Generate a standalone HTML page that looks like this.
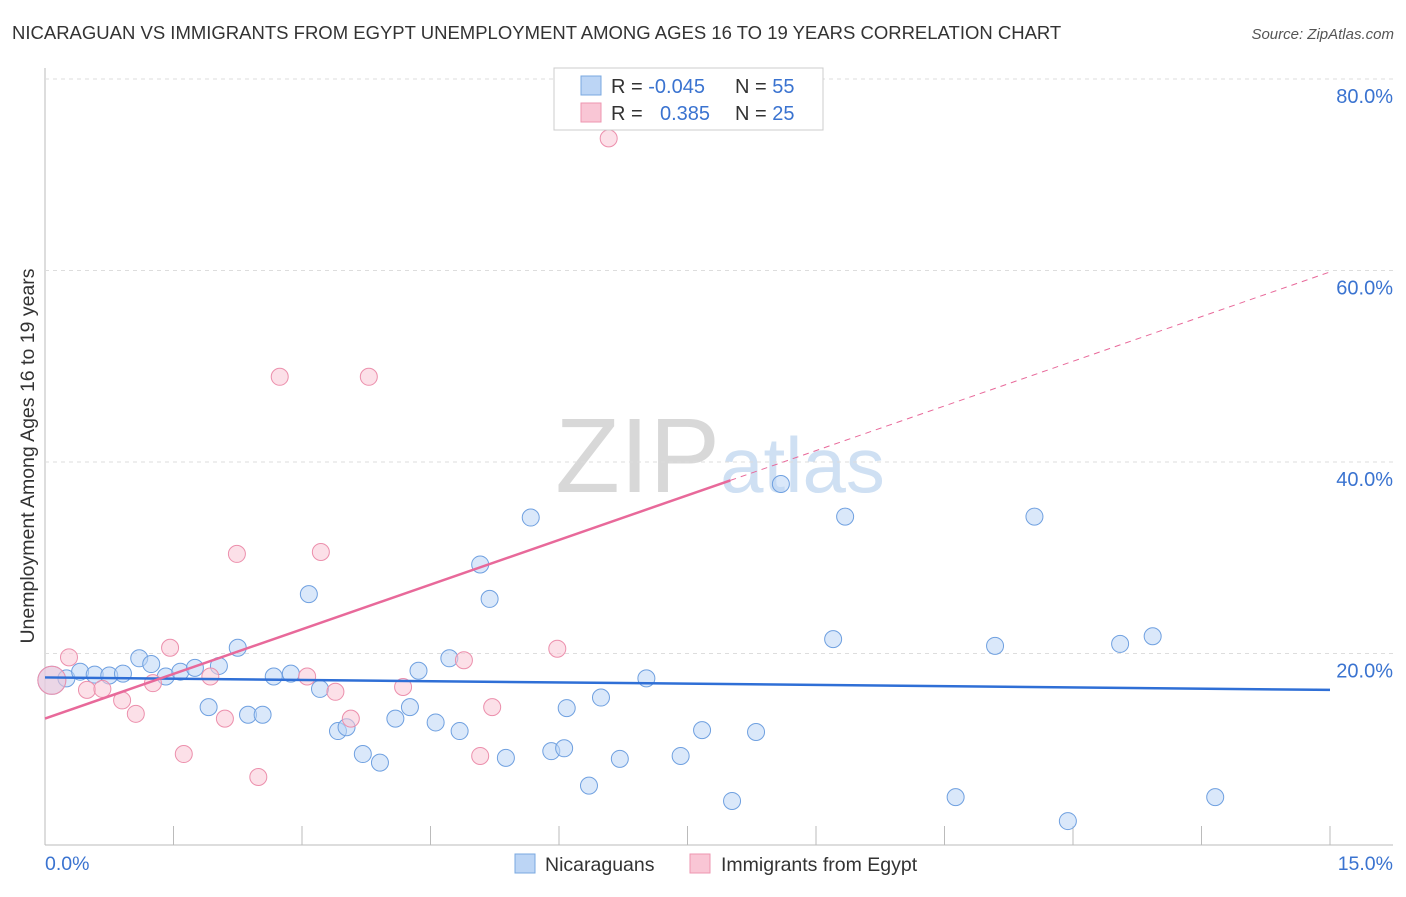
<!DOCTYPE html>
<html><head><meta charset="utf-8"><style>
body{margin:0;background:#fff;font-family:"Liberation Sans",sans-serif}
svg text{font-family:"Liberation Sans",sans-serif}
</style></head><body>
<svg id="c" width="1406" height="892" xmlns="http://www.w3.org/2000/svg">
<text x="12" y="39" font-size="18.5" fill="#333">NICARAGUAN VS IMMIGRANTS FROM EGYPT UNEMPLOYMENT AMONG AGES 16 TO 19 YEARS CORRELATION CHART</text>
<text x="1394" y="39" font-size="15" fill="#555" font-style="italic" text-anchor="end">Source: ZipAtlas.com</text>
<text x="720" y="492" font-size="106" text-anchor="middle" fill="#ddd" font-family="Liberation Serif"><tspan fill="#d8d8d8">ZIP</tspan><tspan fill="#cfe0f3" font-family="Liberation Sans" font-size="78">atlas</tspan></text>
<text transform="translate(34,456) rotate(-90)" font-size="19.5" fill="#333" text-anchor="middle">Unemployment Among Ages 16 to 19 years</text>
<g id="grid"></g><g id="marks"></g>
<g>
<rect x="554" y="68" width="269" height="62" fill="#fff" stroke="#ccc"/>
<rect x="581" y="76" width="20" height="19" fill="#bcd5f5" stroke="#7aa8e0"/>
<rect x="581" y="103" width="20" height="19" fill="#f9c6d5" stroke="#ee96b0"/>
<text x="611" y="93" font-size="20" fill="#333">R = <tspan fill="#3a73d0">-0.045</tspan><tspan x="735">N = </tspan><tspan fill="#3a73d0">55</tspan></text>
<text x="611" y="120" font-size="20" fill="#333">R = <tspan x="660" fill="#3a73d0">0.385</tspan><tspan x="735">N = </tspan><tspan fill="#3a73d0">25</tspan></text>
</g>
<g>
<rect x="515" y="854" width="20" height="19" fill="#bcd5f5" stroke="#7aa8e0"/>
<text x="545" y="871" font-size="19.5" fill="#333">Nicaraguans</text>
<rect x="690" y="854" width="20" height="19" fill="#f9c6d5" stroke="#ee96b0"/>
<text x="721" y="871" font-size="19.5" fill="#333">Immigrants from Egypt</text>
</g>
</svg>
<script>
const blueX=[0.08,0.25,0.41,0.58,0.75,0.91,1.1,1.24,1.41,1.58,1.75,1.91,2.03,2.25,2.37,2.54,2.67,2.87,3.08,3.21,3.42,3.52,3.71,3.91,4.09,4.26,4.36,4.56,4.72,4.84,5.08,5.19,5.38,5.67,5.91,6.06,6.09,6.35,6.49,6.71,7.02,7.42,7.67,8.02,8.3,8.59,9.2,9.34,10.63,11.09,11.55,11.94,12.55,12.93,13.66];
const blueY=[17.2,17.4,18.1,17.8,17.7,17.9,19.5,18.9,17.6,18.1,18.5,14.4,18.7,20.6,13.6,13.6,17.6,17.9,26.2,16.3,11.9,12.3,9.5,8.6,13.2,14.4,18.2,12.8,19.5,11.9,29.3,25.7,9.1,34.2,9.8,10.1,14.3,6.2,15.4,9.0,17.4,9.3,12.0,4.6,11.8,37.7,21.5,34.3,5.0,20.8,34.3,2.5,21.0,21.8,5.0];
const pinkX=[0.08,0.28,0.49,0.67,0.9,1.06,1.26,1.46,1.62,1.93,2.1,2.24,2.49,2.74,3.06,3.22,3.39,3.57,3.78,4.18,4.89,5.08,5.22,5.98,6.58];
const pinkY=[17.2,19.6,16.2,16.3,15.1,13.7,16.9,20.6,9.5,17.6,13.2,30.4,7.1,48.9,17.6,30.6,16.0,13.2,48.9,16.5,19.3,9.3,14.4,20.5,73.8];
const regInt=[17.5,13.2], regSlope=[-0.087,3.11], solidEnd=[15,8.0];
const yTicks=[20,40,60,80], yLabels=["20.0%","40.0%","60.0%","80.0%"];
const xLabels=["0.0%","15.0%"];
const X=v=>45+v/15*1285, Y=v=>845-v*9.575, NS="http://www.w3.org/2000/svg";
const g=document.getElementById('grid'), m=document.getElementById('marks');
function el(p,t,a){const e=document.createElementNS(NS,t);for(const k in a)e.setAttribute(k,a[k]);p.appendChild(e);return e;}
let ax=el(g,'line',{x1:45,y1:68,x2:45,y2:845,stroke:'#bbb'});

let bx=el(g,'line',{x1:45,y1:845,x2:1393,y2:845,stroke:'#bbb'});

for(let i=1;i<=10;i++){const t=el(g,'line',{x1:X(i*1.5),y1:826,x2:X(i*1.5),y2:845,stroke:'#bbb'});
}
yTicks.forEach((v,i)=>{const l=el(g,'line',{x1:45,y1:Y(v),x2:1393,y2:Y(v),stroke:'#ddd','stroke-dasharray':'4,4'});

const t=el(g,'text',{x:1393,y:Y(v)+24,'font-size':20,fill:'#3a73d0','text-anchor':'end'});t.textContent=yLabels[i];
});
[[45,'start',xLabels[0]],[1393,'end',xLabels[1]]].forEach(a=>{const t=el(g,'text',{x:a[0],y:870,'font-size':19.5,fill:'#3a73d0','text-anchor':a[1]});t.textContent=a[2];
});
function pts(xs,ys,f,s,n){xs.forEach((x,i)=>{const c=el(m,'circle',{cx:X(x),cy:Y(ys[i]),r:i==0?14:8.5,fill:f,'fill-opacity':0.55,stroke:s,'stroke-width':1});
});}
pts(blueX,blueY,'#bcd5f5','#6fa0e0','nicaraguan-point');
pts(pinkX,pinkY,'#f9c6d5','#ec8fac','egypt-point');
const cols=['#2f6fd6','#e8699a'];
[0,1].forEach(i=>{const f=x=>regInt[i]+regSlope[i]*x;
const l=el(m,'line',{x1:X(0),y1:Y(f(0)),x2:X(solidEnd[i]),y2:Y(f(solidEnd[i])),stroke:cols[i],'stroke-width':2.5});

if(solidEnd[i]<15){const d=el(m,'line',{x1:X(solidEnd[i]),y1:Y(f(solidEnd[i])),x2:X(15),y2:Y(f(15)),stroke:cols[i],'stroke-width':1,'stroke-dasharray':'6,5'});
}});
</script>
</body></html>
